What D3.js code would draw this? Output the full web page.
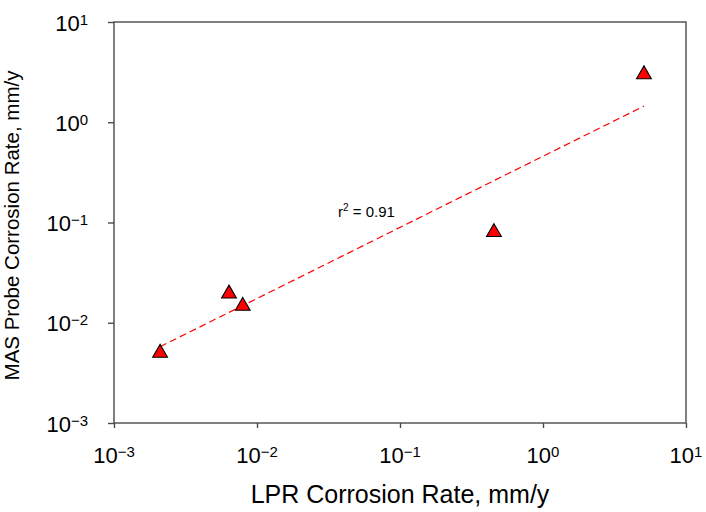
<!DOCTYPE html>
<html>
<head>
<meta charset="utf-8">
<script src="https://cdn.jsdelivr.net/npm/d3@7"></script>
<style>
  html, body { margin: 0; padding: 0; background: #fff; }
  svg text { font-family: "Liberation Sans", Arial, sans-serif; fill: #000; }
</style>
</head>
<body>
<svg id="chart" width="706" height="512"></svg>
<script>
// ---- data ----
const lprRate = [0.0021, 0.00637, 0.00795, 0.454, 5.08];   // x: LPR corrosion rate, mm/y
const masRate = [0.005, 0.0195, 0.0147, 0.080, 3.0];        // y: MAS probe corrosion rate, mm/y
const fitX = [0.0021, 5.08];                                 // regression line ends
const fitY = [0.00577, 1.45];
const xTickExps = [-3, -2, -1, 0, 1];
const yTickExps = [-3, -2, -1, 0, 1];
const xTitle = "LPR Corrosion Rate, mm/y";
const yTitle = "MAS Probe Corrosion Rate, mm/y";
const r2Label = "0.91";

// ---- layout ----
const svg = d3.select("#chart");
const L = 114, R = 686, T = 22, B = 423;
const x = d3.scaleLog().domain([1e-3, 1e1]).range([L, R]);
const y = d3.scaleLog().domain([1e-3, 1e1]).range([B, T]);

const frameColor = "#4a4a4a";
const expText = e => (e < 0 ? "\u2212" + Math.abs(e) : String(e));

// frame
svg.append("rect")
  .attr("x", L).attr("y", T).attr("width", R - L).attr("height", B - T)
  .attr("fill", "none").attr("stroke", frameColor).attr("stroke-width", 1.4);

// axes ticks
const xAxis = d3.axisBottom(x).tickValues(xTickExps.map(e => Math.pow(10, e)))
  .tickSize(5).tickFormat("");
const gx = svg.append("g").attr("transform", `translate(0,${B})`).call(xAxis);
gx.select(".domain").remove();
gx.selectAll(".tick line").attr("stroke", frameColor).attr("stroke-width", 1.4);

const yAxis = d3.axisLeft(y).tickValues(yTickExps.map(e => Math.pow(10, e)))
  .tickSize(6).tickFormat("");
const gy = svg.append("g").attr("transform", `translate(${L},0)`).call(yAxis);
gy.select(".domain").remove();
gy.selectAll(".tick line").attr("stroke", frameColor).attr("stroke-width", 1.4);

// x tick labels
xTickExps.forEach(e => {
  const t = svg.append("text")
    .attr("x", x(Math.pow(10, e))).attr("y", 463)
    .attr("text-anchor", "middle").attr("font-size", 22);
  t.append("tspan").text("10");
  t.append("tspan").attr("dy", -6).attr("font-size", 15).text(expText(e));
});

// y tick labels
yTickExps.forEach(e => {
  const t = svg.append("text")
    .attr("x", 88).attr("y", y(Math.pow(10, e)) + 8.5)
    .attr("text-anchor", "end").attr("font-size", 22);
  t.append("tspan").text("10");
  t.append("tspan").attr("dy", -6).attr("font-size", 15).text(expText(e));
});

// axis titles
svg.append("text").attr("x", (L + R) / 2).attr("y", 503)
  .attr("text-anchor", "middle").attr("font-size", 25).text(xTitle);
svg.append("text")
  .attr("transform", `translate(19,${(T + B) / 2 + 3}) rotate(-90)`)
  .attr("text-anchor", "middle").attr("font-size", 20.5).text(yTitle);

// regression line
const line = d3.line().x(d => x(d[0])).y(d => y(d[1]));
svg.append("path")
  .datum(fitX.map((v, i) => [v, fitY[i]]))
  .attr("d", line)
  .attr("fill", "none").attr("stroke", "#ff0000").attr("stroke-width", 1.2)
  .attr("stroke-dasharray", "7,4");

// r^2 label
const rt = svg.append("text").attr("x", 338).attr("y", 217).attr("font-size", 15);
rt.append("tspan").text("r");
rt.append("tspan").attr("dy", -6).attr("font-size", 10).text("2");
rt.append("tspan").attr("dy", 6).text(" = " + r2Label);

// triangles
const tri = d3.symbol().type(d3.symbolTriangle).size(95);
svg.selectAll("path.pt").data(lprRate.map((v, i) => [v, masRate[i]]))
  .enter().append("path").attr("class", "pt")
  .attr("d", tri)
  .attr("transform", d => `translate(${x(d[0])},${y(d[1])})`)
  .attr("fill", "#ff0000").attr("stroke", "#000").attr("stroke-width", 1.1);
</script>
</body>
</html>
